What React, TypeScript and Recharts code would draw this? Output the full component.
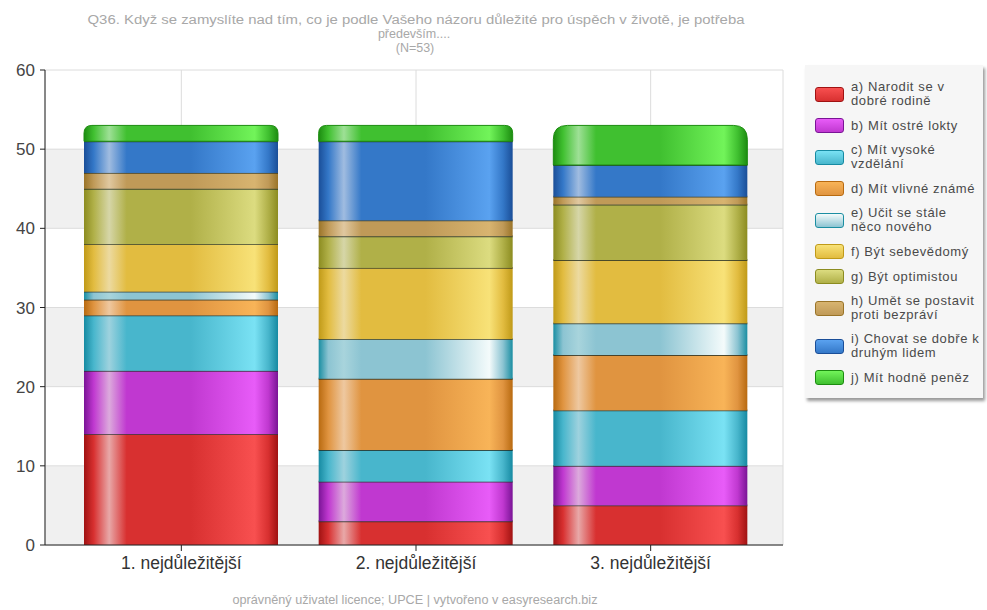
import React from 'react';
import { BarChart, Bar, XAxis, YAxis, CartesianGrid } from 'recharts';

const categories = ['1. nejdůležitější', '2. nejdůležitější', '3. nejdůležitější'];
const seriesKeys = ['a', 'b', 'c', 'd', 'e', 'f', 'g', 'h', 'i', 'j'];
const seriesNames = [
  'a) Narodit se v\ndobré rodině',
  'b) Mít ostré lokty',
  'c) Mít vysoké\nvzdělání',
  'd) Mít vlivné známé',
  'e) Učit se stále\nněco nového',
  'f) Být sebevědomý',
  'g) Být optimistou',
  'h) Umět se postavit\nproti bezpráví',
  'i) Chovat se dobře k\ndruhým lidem',
  'j) Mít hodně peněz',
];
const valuesA = [14, 3, 5];
const valuesB = [8, 5, 5];
const valuesC = [7, 4, 7];
const valuesD = [2, 9, 7];
const valuesE = [1, 5, 4];
const valuesF = [6, 9, 8];
const valuesG = [7, 4, 7];
const valuesH = [2, 2, 1];
const valuesI = [4, 10, 4];
const valuesJ = [2, 2, 5];
const seriesValues = [valuesA, valuesB, valuesC, valuesD, valuesE, valuesF, valuesG, valuesH, valuesI, valuesJ];
const yTicks = [0, 10, 20, 30, 40, 50, 60];

const titleLines = [
  'Q36. Když se zamyslíte nad tím, co je podle Vašeho názoru důležité pro úspěch v životě, je potřeba',
  'především....',
  '(N=53)',
];
const footerText = 'oprávněný uživatel licence; UPCE | vytvořeno v easyresearch.biz';

// edge, highlight, base, bright
const palettes = [
  ['#a01212', '#e8a8a8', '#d83030', '#f85050'],
  ['#7a1496', '#dcaadc', '#c038d0', '#e85cf8'],
  ['#168aa2', '#9ed2de', '#48b6cc', '#7ae2f4'],
  ['#b86a10', '#eec8a0', '#e09440', '#f8b458'],
  ['#1a8ea2', '#a8d4dc', '#8cc4d2', '#f4fbfb'],
  ['#c09a18', '#ecdaa0', '#e2bc40', '#f8e278'],
  ['#8c8c20', '#d6d6a8', '#b0b048', '#dcdc80'],
  ['#9a7428', '#e0c8a0', '#c09a58', '#d8b470'],
  ['#1a4e98', '#a0bce0', '#3478c8', '#5aa2f0'],
  ['#1c8c10', '#9ee096', '#40c030', '#72f45a'],
];

const data = categories.map((name, ci) => {
  const row: Record<string, any> = { name };
  seriesKeys.forEach((k, si) => {
    row[k] = seriesValues[si][ci];
  });
  return row;
});

const makeShape = (idx: number, isTop: boolean) => (props: any) => {
  const { x, y, width, height } = props;
  if (!height || height <= 0) return <g />;
  const fill = `url(#grad-${idx})`;
  if (isTop) {
    const r = Math.min(14, height / 2);
    const d = `M${x},${y + height} L${x},${y + r} Q${x},${y} ${x + r},${y} L${x + width - r},${y} Q${x + width},${y} ${x + width},${y + r} L${x + width},${y + height} Z`;
    return (
      <g>
        <path d={d} fill={fill} stroke={palettes[idx][0]} strokeWidth={1} />
      </g>
    );
  }
  return (
    <g>
      <rect x={x} y={y} width={width} height={height} fill={fill} />
      <line x1={x} x2={x + width} y1={y} y2={y} stroke="rgba(35,45,35,0.8)" strokeWidth={1.8} />
    </g>
  );
};

const LegendBox = () => (
  <div
    style={{
      position: 'absolute',
      left: 805,
      top: 65,
      width: 178,
      height: 333,
      background: '#f6f6f6',
      boxShadow: '2px 3px 3px rgba(0,0,0,0.4)',
      boxSizing: 'border-box',
      paddingTop: 15,
      paddingLeft: 10,
      display: 'flex',
      flexDirection: 'column',
      gap: 10,
    }}
  >
    {seriesNames.map((n, i) => (
      <div key={i} style={{ display: 'flex', alignItems: 'center' }}>
        <div
          style={{
            width: 27,
            height: 13,
            borderRadius: 3,
            border: `1px solid ${palettes[i][0]}`,
            background: `linear-gradient(to bottom, ${palettes[i][3]}, ${palettes[i][2]})`,
            marginRight: 7,
            flexShrink: 0,
          }}
        />
        <div
          style={{
            fontSize: 13,
            lineHeight: '14px',
            letterSpacing: 0.6,
            color: '#4a4a4a',
            whiteSpace: 'pre',
          }}
        >
          {n}
        </div>
      </div>
    ))}
  </div>
);

const TextOverlay = () => (
  <svg
    width={987}
    height={610}
    style={{ position: 'absolute', left: 0, top: 0, pointerEvents: 'none' }}
  >
    <g fill="#a8a8a8" fontSize={12.5} textAnchor="middle" fontFamily='"Liberation Sans", Arial, sans-serif'>
      <text x={416} y={24} textLength={657} lengthAdjust="spacingAndGlyphs">{titleLines[0]}</text>
      <text x={414} y={38}>{titleLines[1]}</text>
      <text x={415} y={52}>{titleLines[2]}</text>
      <text x={415} y={604} textLength={365} lengthAdjust="spacingAndGlyphs">{footerText}</text>
    </g>
  </svg>
);

export default function App() {
  return (
    <div
      style={{
        position: 'absolute',
        left: 0,
        top: 0,
        width: 987,
        height: 610,
        background: '#fff',
        fontFamily: '"Liberation Sans", Arial, sans-serif',
      }}
    >
      <BarChart
        width={987}
        height={610}
        data={data}
        margin={{ top: 70, right: 204, bottom: 35, left: 0 }}
        barSize={194}
      >
        <defs>
          {palettes.map((p, i) => (
            <linearGradient key={i} id={`grad-${i}`} x1="0" y1="0" x2="1" y2="0">
              <stop offset="0" stopColor={p[0]} />
              <stop offset="0.05" stopColor={p[2]} />
              <stop offset="0.13" stopColor={p[1]} />
              <stop offset="0.22" stopColor={p[2]} />
              <stop offset="0.55" stopColor={p[2]} />
              <stop offset="0.88" stopColor={p[3]} />
              <stop offset="0.95" stopColor={p[2]} />
              <stop offset="1" stopColor={p[0]} />
            </linearGradient>
          ))}
        </defs>
        <CartesianGrid
          stroke="#dcdcdc"
          horizontalFill={['#ffffff', '#f0f0f0']}
          fillOpacity={1}
        />
        <XAxis
          dataKey="name"
          axisLine={{ stroke: '#222' }}
          tickLine={{ stroke: '#222' }}
          tickSize={6}
          tickMargin={6}
          height={30}
          padding={{ left: 19, right: 15 }}
          tick={{ fontSize: 17.5, fill: '#333' }}
        />
        <YAxis
          domain={[0, 60]}
          ticks={yTicks}
          width={45}
          axisLine={{ stroke: '#222' }}
          tickLine={{ stroke: '#222' }}
          tickSize={5}
          tickMargin={5}
          tick={{ fontSize: 17, fill: '#444' }}
          interval={0}
        />
        {seriesKeys.map((k, i) => (
          <Bar
            key={k}
            dataKey={k}
            name={seriesNames[i]}
            stackId="s"
            fill={`url(#grad-${i})`}
            shape={makeShape(i, i === seriesKeys.length - 1)}
            isAnimationActive={false}
          />
        ))}
      </BarChart>
      <LegendBox />
      <TextOverlay />
    </div>
  );
}
